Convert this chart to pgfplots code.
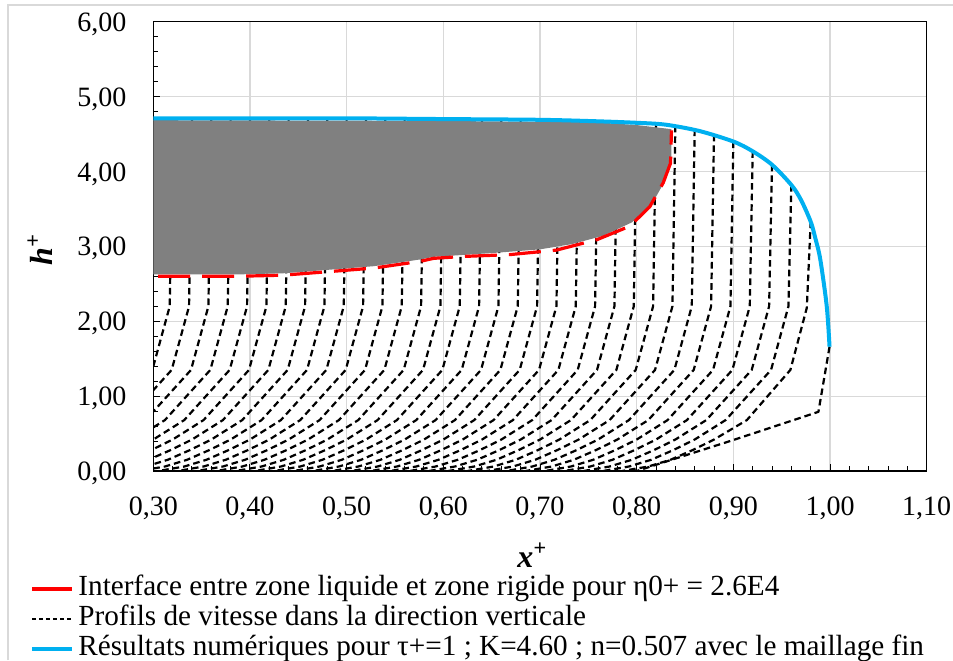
\documentclass[border=0pt]{standalone}
\usepackage{fontspec}
\setmainfont{Liberation Serif}
\usepackage{pgfplots}
\pgfplotsset{compat=1.18}
\definecolor{myblue}{HTML}{00B0F0}
\definecolor{mygrid}{HTML}{D9D9D9}
\definecolor{mygray}{HTML}{808080}
\pgfplotsset{profile/.style={black, dash pattern=on 3.3pt off 2pt, line width=1.1pt, line join=round, forget plot}}
\begin{document}
\begin{tikzpicture}
\begin{axis}[
 name=ax,
 scale only axis, width=386.7pt, height=224.65pt,
 xmin=0.3, xmax=1.1, ymin=0, ymax=6,
 xtick={0.3,0.4,0.5,0.6,0.7,0.8,0.9,1.0,1.1},
 ytick={0,1,2,3,4,5,6},
 minor xtick={0.32,0.34,0.36,0.38,0.42,0.44,0.46,0.48,0.52,0.54,0.56,0.58,0.62,0.64,0.66,0.68,0.72,0.74,0.76,0.78,0.82,0.84,0.86,0.88,0.92,0.94,0.96,0.98,1.02,1.04,1.06,1.08},
 minor ytick={0.2,0.4,0.6,0.8,1.2,1.4,1.6,1.8,2.2,2.4,2.6,2.8,3.2,3.4,3.6,3.8,4.2,4.4,4.6,4.8,5.2,5.4,5.6,5.8},
 xtick pos=bottom, ytick pos=left,
 tick align=inside,
 major tick length=3.5pt, minor tick length=2.5pt,
 xmajorgrids, ymajorgrids,
 major grid style={mygrid, line width=0.6pt},
 axis line style={black, line width=0.7pt},
 every tick/.style={black, line width=0.5pt},
 /pgf/number format/fixed, /pgf/number format/fixed zerofill,
 /pgf/number format/precision=2, /pgf/number format/use comma,
 /pgf/number format/assume math mode=true,
 tick label style={font=\fontsize{14}{16}\selectfont},
 xticklabel style={anchor=base, inner sep=0pt, yshift=-22pt},
 yticklabel style={anchor=base east, inner sep=0pt, xshift=-13.3pt, yshift=-4.8pt},
 xlabel={\bfseries\itshape x\textsuperscript{+}},
 ylabel={\bfseries\itshape h\textsuperscript{+}},
 label style={font=\fontsize{16}{18}\selectfont, inner sep=0pt},
 xlabel style={at={(axis description cs:0.49,-0.187)}, anchor=center},
 ylabel style={at={(axis description cs:-0.1465,0.492)}, anchor=center},
 legend style={at={(axis description cs:-0.1594,-0.2337)}, anchor=north west, draw=none, fill=none, inner sep=0pt, row sep=2.5pt, column sep=2pt, font=\fontsize{14.6}{16}\selectfont, nodes={inner sep=0pt, text height=9.5pt, text depth=3pt}},
 legend cell align=left,
 legend image code/.code={\draw[#1] (0pt,0pt) -- (20pt,0pt);},
]
% velocity profiles
\addplot[profile] coordinates {(0.32,4.71) (0.317,2.2) (0.299,1.35) (0.252,0.68) (0.220,0.42) (0.198,0.28) (0.175,0.15) (0.152,0.06) (0.125,0)};
\addplot[profile] coordinates {(0.34,4.71) (0.337,2.2) (0.319,1.35) (0.272,0.68) (0.240,0.42) (0.218,0.28) (0.195,0.15) (0.172,0.06) (0.145,0)};
\addplot[profile] coordinates {(0.36,4.71) (0.357,2.2) (0.339,1.35) (0.292,0.68) (0.260,0.42) (0.238,0.28) (0.215,0.15) (0.192,0.06) (0.165,0)};
\addplot[profile] coordinates {(0.38,4.71) (0.377,2.2) (0.359,1.35) (0.312,0.68) (0.280,0.42) (0.258,0.28) (0.235,0.15) (0.212,0.06) (0.185,0)};
\addplot[profile] coordinates {(0.40,4.71) (0.397,2.2) (0.379,1.35) (0.332,0.68) (0.300,0.42) (0.278,0.28) (0.255,0.15) (0.232,0.06) (0.205,0)};
\addplot[profile] coordinates {(0.42,4.71) (0.417,2.2) (0.399,1.35) (0.352,0.68) (0.320,0.42) (0.298,0.28) (0.275,0.15) (0.252,0.06) (0.225,0)};
\addplot[profile] coordinates {(0.44,4.71) (0.437,2.2) (0.419,1.35) (0.372,0.68) (0.340,0.42) (0.318,0.28) (0.295,0.15) (0.272,0.06) (0.245,0)};
\addplot[profile] coordinates {(0.46,4.71) (0.457,2.2) (0.439,1.35) (0.392,0.68) (0.360,0.42) (0.338,0.28) (0.315,0.15) (0.292,0.06) (0.265,0)};
\addplot[profile] coordinates {(0.48,4.71) (0.477,2.2) (0.459,1.35) (0.412,0.68) (0.380,0.42) (0.358,0.28) (0.335,0.15) (0.312,0.06) (0.285,0)};
\addplot[profile] coordinates {(0.50,4.71) (0.497,2.2) (0.479,1.35) (0.432,0.68) (0.400,0.42) (0.378,0.28) (0.355,0.15) (0.332,0.06) (0.305,0)};
\addplot[profile] coordinates {(0.52,4.71) (0.517,2.2) (0.499,1.35) (0.452,0.68) (0.420,0.42) (0.398,0.28) (0.375,0.15) (0.352,0.06) (0.325,0)};
\addplot[profile] coordinates {(0.54,4.705) (0.537,2.2) (0.519,1.35) (0.472,0.68) (0.440,0.42) (0.418,0.28) (0.395,0.15) (0.372,0.06) (0.345,0)};
\addplot[profile] coordinates {(0.56,4.705) (0.557,2.2) (0.539,1.35) (0.492,0.68) (0.460,0.42) (0.438,0.28) (0.415,0.15) (0.392,0.06) (0.365,0)};
\addplot[profile] coordinates {(0.58,4.70) (0.577,2.2) (0.559,1.35) (0.512,0.68) (0.480,0.42) (0.458,0.28) (0.435,0.15) (0.412,0.06) (0.385,0)};
\addplot[profile] coordinates {(0.60,4.70) (0.597,2.2) (0.579,1.35) (0.532,0.68) (0.500,0.42) (0.478,0.28) (0.455,0.15) (0.432,0.06) (0.405,0)};
\addplot[profile] coordinates {(0.62,4.70) (0.617,2.2) (0.599,1.35) (0.552,0.68) (0.520,0.42) (0.498,0.28) (0.475,0.15) (0.452,0.06) (0.425,0)};
\addplot[profile] coordinates {(0.64,4.695) (0.637,2.2) (0.619,1.35) (0.572,0.68) (0.540,0.42) (0.518,0.28) (0.495,0.15) (0.472,0.06) (0.445,0)};
\addplot[profile] coordinates {(0.66,4.695) (0.657,2.2) (0.639,1.35) (0.592,0.68) (0.560,0.42) (0.538,0.28) (0.515,0.15) (0.492,0.06) (0.465,0)};
\addplot[profile] coordinates {(0.68,4.69) (0.677,2.2) (0.659,1.35) (0.612,0.68) (0.580,0.42) (0.558,0.28) (0.535,0.15) (0.512,0.06) (0.485,0)};
\addplot[profile] coordinates {(0.70,4.69) (0.697,2.2) (0.679,1.35) (0.632,0.68) (0.600,0.42) (0.578,0.28) (0.555,0.15) (0.532,0.06) (0.505,0)};
\addplot[profile] coordinates {(0.72,4.685) (0.717,2.2) (0.699,1.35) (0.652,0.68) (0.620,0.42) (0.598,0.28) (0.575,0.15) (0.552,0.06) (0.525,0)};
\addplot[profile] coordinates {(0.74,4.68) (0.737,2.2) (0.719,1.35) (0.672,0.68) (0.640,0.42) (0.618,0.28) (0.595,0.15) (0.572,0.06) (0.545,0)};
\addplot[profile] coordinates {(0.76,4.67) (0.757,2.2) (0.739,1.35) (0.692,0.68) (0.660,0.42) (0.638,0.28) (0.615,0.15) (0.592,0.06) (0.565,0)};
\addplot[profile] coordinates {(0.78,4.66) (0.777,2.2) (0.759,1.35) (0.712,0.68) (0.680,0.42) (0.658,0.28) (0.635,0.15) (0.612,0.06) (0.585,0)};
\addplot[profile] coordinates {(0.80,4.65) (0.797,2.2) (0.779,1.35) (0.732,0.68) (0.700,0.42) (0.678,0.28) (0.655,0.15) (0.632,0.06) (0.605,0)};
\addplot[profile] coordinates {(0.82,4.63) (0.817,2.2) (0.799,1.35) (0.752,0.68) (0.720,0.42) (0.698,0.28) (0.675,0.15) (0.652,0.06) (0.625,0)};
\addplot[profile] coordinates {(0.84,4.61) (0.837,2.2) (0.819,1.35) (0.772,0.68) (0.740,0.42) (0.718,0.28) (0.695,0.15) (0.672,0.06) (0.645,0)};
\addplot[profile] coordinates {(0.86,4.56) (0.857,2.2) (0.839,1.35) (0.792,0.68) (0.760,0.42) (0.738,0.28) (0.715,0.15) (0.692,0.06) (0.665,0)};
\addplot[profile] coordinates {(0.88,4.49) (0.877,2.2) (0.859,1.35) (0.812,0.68) (0.780,0.42) (0.758,0.28) (0.735,0.15) (0.712,0.06) (0.685,0)};
\addplot[profile] coordinates {(0.90,4.40) (0.897,2.2) (0.879,1.35) (0.832,0.68) (0.800,0.42) (0.778,0.28) (0.755,0.15) (0.732,0.06) (0.705,0)};
\addplot[profile] coordinates {(0.92,4.27) (0.917,2.2) (0.899,1.35) (0.852,0.68) (0.820,0.42) (0.798,0.28) (0.775,0.15) (0.752,0.06) (0.725,0)};
\addplot[profile] coordinates {(0.94,4.09) (0.937,2.2) (0.919,1.35) (0.872,0.68) (0.840,0.42) (0.818,0.28) (0.795,0.15) (0.772,0.06) (0.745,0)};
\addplot[profile] coordinates {(0.96,3.82) (0.957,2.2) (0.939,1.35) (0.892,0.68) (0.860,0.42) (0.838,0.28) (0.815,0.15) (0.792,0.06) (0.765,0)};
\addplot[profile] coordinates {(0.98,3.33) (0.976,2.18) (0.959,1.35) (0.914,0.68) (0.880,0.42) (0.858,0.28) (0.835,0.15) (0.812,0.06) (0.785,0)};
\addplot[profile] coordinates {(0.9995,1.66) (0.988,0.79) (0.900,0.414) (0.80,0)};
% rigid zone
\addplot[fill=mygray, draw=none, forget plot] coordinates {(0.30,4.685) (0.60,4.675) (0.76,4.655) (0.80,4.62) (0.836,4.565) (0.836,4.12) (0.830,3.89) (0.815,3.55) (0.795,3.32) (0.765,3.14) (0.733,3.03) (0.70,2.96) (0.655,2.915) (0.62,2.885) (0.59,2.86) (0.576,2.825) (0.528,2.735) (0.479,2.685) (0.434,2.64) (0.386,2.625) (0.30,2.625)} -- cycle;
% interface
\addplot[red, line width=1.6pt, dash pattern=on 16pt off 6pt, forget plot] coordinates {(0.305,2.60) (0.386,2.60) (0.434,2.615) (0.479,2.66) (0.528,2.71) (0.576,2.80) (0.59,2.84) (0.62,2.865) (0.669,2.89) (0.717,2.95) (0.759,3.09) (0.793,3.27) (0.8136,3.53) (0.8275,3.85) (0.835,4.11) (0.836,4.55)};
% numerical free surface
\addplot[myblue, line width=2pt, smooth, forget plot] coordinates {(0.30,4.71) (0.40,4.71) (0.50,4.71) (0.60,4.70) (0.70,4.69) (0.76,4.67) (0.80,4.65) (0.83,4.625) (0.865,4.54) (0.90,4.40) (0.92,4.27) (0.94,4.09) (0.96,3.82) (0.97,3.62) (0.98,3.33) (0.985,3.10) (0.99,2.82) (0.9966,2.20) (0.9995,1.66)};
\addlegendimage{red, line width=1.6pt}
\addlegendentry{Interface entre zone liquide et zone rigide pour η0+ = 2.6E4}
\addlegendimage{black, dash pattern=on 2pt off 1.5pt, line width=0.6pt}
\addlegendentry{Profils de vitesse dans la direction verticale}
\addlegendimage{myblue, line width=2pt}
\addlegendentry{Résultats numériques pour τ+=1 ; K=4.60 ; n=0.507 avec le maillage fin}
\end{axis}
\draw[mygrid, line width=0.6pt] ([shift={(-72.65pt,-94.5pt)}]ax.south west) -- ([shift={(-72.65pt,233pt)}]ax.south west) -- ([shift={(399.85pt,233pt)}]ax.south west);
\pgfresetboundingbox
\path[use as bounding box] ([shift={(-76.65pt,-94.5pt)}]ax.south west) rectangle ([shift={(399.85pt,235.5pt)}]ax.south west);
\end{tikzpicture}
\end{document}
